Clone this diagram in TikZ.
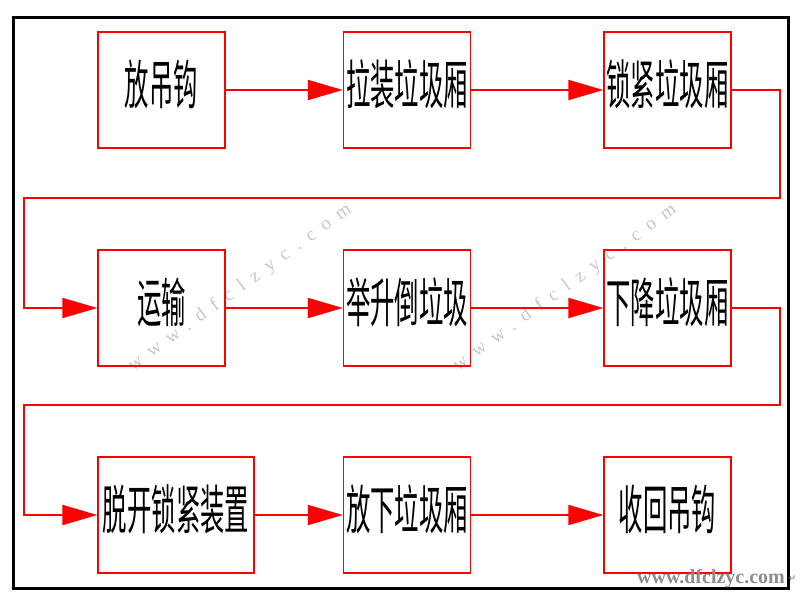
\documentclass[tikz,border=0pt]{standalone}
\usepackage{fontspec}
\newfontfamily\cjk{Noto Sans CJK SC}
\newfontfamily\wmfont[LetterSpace=50]{Liberation Serif}
\newfontfamily\sitefont{Liberation Serif}
\newfontfamily\symfont{DejaVu Sans}
\usetikzlibrary{arrows.meta}
\newcommand{\boxtext}[1]{\raisebox{6pt}[\height][\depth]{\scalebox{0.46}[1]{\cjk\fontsize{53}{53}\selectfont #1}}}

\begin{document}
\begin{tikzpicture}[x=1pt,y=-1pt,
	stage/.style={draw=red, line width=1.3pt, minimum width=127pt, minimum height=116pt, inner sep=0pt},
	flow/.style={red, line width=1.8pt, -{Triangle[length=35pt,width=20pt]}},
	watermark/.style={text=black!22, font=\wmfont\fontsize{19}{19}\selectfont, rotate=36}]
	\useasboundingbox (0,0) rectangle (800,600);
	
	%frame
	\draw[line width=3pt] (13.5,17) rectangle (788.5,588);
	
	%watermarks
	\node[watermark] (wm1) at (240,288){www.dfclzyc.com};
	\node[watermark] (wm2) at (565,288){www.dfclzyc.com};
	
	%row 1
	\node[stage] (b1) at (161.5,90){\boxtext{放吊钩}};
	\node[stage] (b2) at (407,90){\boxtext{拉装垃圾厢}};
	\node[stage] (b3) at (667.5,90){\boxtext{锁紧垃圾厢}};
	
	%row 2
	\node[stage] (b4) at (161.5,308){\boxtext{运输}};
	\node[stage] (b5) at (407,308){\boxtext{举升倒垃圾}};
	\node[stage] (b6) at (667.5,308){\boxtext{下降垃圾厢}};
	
	%row 3
	\node[stage, minimum width=156pt] (b7) at (176,515){\boxtext{脱开锁紧装置}};
	\node[stage] (b8) at (407,515){\boxtext{放下垃圾厢}};
	\node[stage] (b9) at (667.5,515){\boxtext{收回吊钩}};
	
	\foreach \a/\b in {b1/b2, b2/b3, b4/b5, b5/b6, b7/b8, b8/b9}{
		\draw[flow] (\a) -- (\b);
	}
	
	%turns between rows
	\coordinate (r1) at (780,198);
	\coordinate (l1) at (24,198);
	\coordinate (r2) at (780,405);
	\coordinate (l2) at (24,405);
	\draw[flow] (b3.east) -| (r1) -- (l1) |- (b4.west);
	\draw[flow] (b6.east) -| (r2) -- (l2) |- (b7.west);
	
	\node[text=black!45, font=\sitefont\bfseries\fontsize{20}{20}\selectfont] (wm3) at (711,579){www.dfclzyc.com};
	\node[text=black!60, font=\symfont\fontsize{9}{9}\selectfont, anchor=west, inner sep=0pt] (ret) at (wm3.east){↵};
\end{tikzpicture}
\end{document}
